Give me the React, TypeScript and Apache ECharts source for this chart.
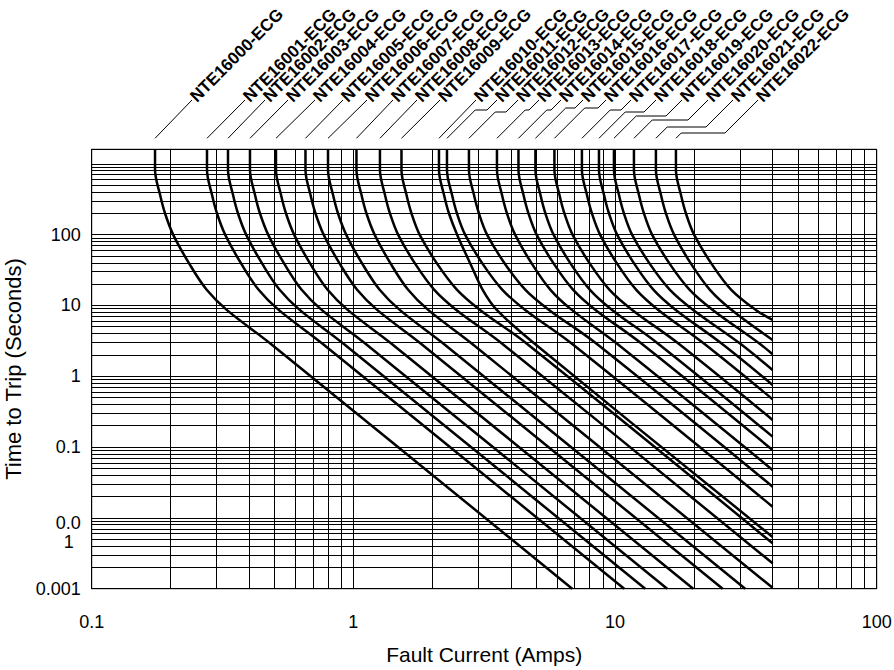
import React, { useEffect, useRef } from 'react';
import * as echarts from 'echarts';

const curveNames = [
  'NTE16000-ECG', 'NTE16001-ECG', 'NTE16002-ECG', 'NTE16003-ECG', 'NTE16004-ECG',
  'NTE16005-ECG', 'NTE16006-ECG', 'NTE16007-ECG', 'NTE16008-ECG', 'NTE16009-ECG',
  'NTE16010-ECG', 'NTE16011-ECG', 'NTE16012-ECG', 'NTE16013-ECG', 'NTE16014-ECG',
  'NTE16015-ECG', 'NTE16016-ECG', 'NTE16017-ECG', 'NTE16018-ECG', 'NTE16019-ECG',
  'NTE16020-ECG', 'NTE16021-ECG', 'NTE16022-ECG',
];

const xTickLabels = ['0.1', '1', '10', '100'];
const yTickLabels = ['0.001', '{s| }\n{t|0.0}\n{u|1}', '0.1', '1', '10', '100'];
const xRange = [0.1, 100];
const yRange = [0.001, 1600];

// [fault current (A), time to trip (s)]
const c00 = [[0.1746, 1600], [0.1746, 820], [0.1825, 364], [0.1906, 200], [0.205, 99], [0.2375, 37.3], [0.2751, 16.6], [0.3281, 8.64], [0.4802, 2.92], [6.86, 0.001]];
const c01 = [[0.2758, 1600], [0.2758, 820], [0.2882, 364], [0.301, 200], [0.3239, 99], [0.3752, 37.3], [0.4345, 16.6], [0.5182, 8.64], [0.7585, 2.92], [10.84, 0.001]];
const c02 = [[0.3318, 1600], [0.3318, 820], [0.3467, 364], [0.3621, 200], [0.3896, 99], [0.4513, 37.3], [0.5227, 16.6], [0.6235, 8.64], [0.9125, 2.92], [13.04, 0.001]];
const c03 = [[0.4026, 1600], [0.4026, 820], [0.4207, 364], [0.4394, 200], [0.4728, 99], [0.5477, 37.3], [0.6343, 16.6], [0.7565, 8.64], [1.107, 2.92], [15.82, 0.001]];
const c04 = [[0.5061, 1600], [0.5061, 820], [0.5289, 364], [0.5524, 200], [0.5943, 99], [0.6885, 37.3], [0.7974, 16.6], [0.951, 8.64], [1.392, 2.92], [19.89, 0.001]];
const c05 = [[0.6561, 1600], [0.6561, 820], [0.6856, 364], [0.7161, 200], [0.7705, 99], [0.8925, 37.3], [1.0337, 16.6], [1.2328, 8.64], [1.804, 2.92], [25.78, 0.001]];
const c06 = [[0.8, 1600], [0.8, 820], [0.836, 364], [0.8731, 200], [0.9394, 99], [1.0882, 37.3], [1.2604, 16.6], [1.5032, 8.64], [2.2, 2.92], [31.44, 0.001]];
const c07 = [[1.0276, 1600], [1.0276, 820], [1.0738, 364], [1.1215, 200], [1.2067, 99], [1.3978, 37.3], [1.619, 16.6], [1.9309, 8.64], [2.826, 2.92], [40, 0.00103]];
const c08 = [[1.2635, 1600], [1.2635, 820], [1.3204, 364], [1.379, 200], [1.4837, 99], [1.734, 37.3], [2.0384, 16.6], [2.4745, 8.64], [3.686, 2.92], [40, 0.002285]];
const c09 = [[1.527, 1600], [1.527, 820], [1.5957, 364], [1.6666, 200], [1.7931, 99], [2.1044, 37.3], [2.4905, 16.6], [3.0485, 8.64], [4.579, 2.92], [40, 0.004377]];
const c10 = [[2.124, 1600], [2.124, 820], [2.2196, 364], [2.3181, 200], [2.4942, 99], [2.814, 37.3], [3.12, 16.6], [3.532, 8.64], [4.904, 2.92], [40, 0.005374]];
const c11 = [[2.279, 1600], [2.279, 820], [2.3816, 364], [2.4873, 200], [2.6762, 99], [3.1389, 37.3], [3.7112, 16.6], [4.5374, 8.64], [6.808, 2.92], [40, 0.01439]];
const c12 = [[2.765, 1600], [2.765, 820], [2.8894, 364], [3.0177, 200], [3.2469, 99], [3.8218, 37.3], [4.5453, 16.6], [5.596, 8.64], [8.455, 2.92], [40, 0.02759]];
const c13 = [[3.538, 1600], [3.538, 820], [3.6972, 364], [3.8614, 200], [4.1547, 99], [4.8422, 37.3], [5.665, 16.6], [6.838, 8.64], [10.13, 2.92], [40, 0.0475]];
const c14 = [[4.275, 1600], [4.275, 820], [4.4674, 364], [4.6657, 200], [5.0201, 99], [5.8746, 37.3], [6.9205, 16.6], [8.4239, 8.64], [12.58, 2.92], [40, 0.091]];
const c15 = [[4.963, 1600], [4.963, 820], [5.1863, 364], [5.4166, 200], [5.8281, 99], [6.8153, 37.3], [8.0202, 16.6], [9.748, 8.64], [14.54, 2.92], [40, 0.1402]];
const c16 = [[5.866, 1600], [5.866, 820], [6.13, 364], [6.4021, 200], [6.8884, 99], [8.072, 37.3], [9.53, 16.6], [11.632, 8.64], [17.42, 2.92], [40, 0.2414]];
const c17 = [[7.472, 1600], [7.472, 820], [7.8082, 364], [8.155, 200], [8.7744, 99], [10.254, 37.3], [12.055, 16.6], [14.634, 8.64], [21.8, 2.92], [40, 0.4733]];
const c18 = [[8.682, 1600], [8.682, 820], [9.0727, 364], [9.4755, 200], [10.195, 99], [11.926, 37.3], [14.037, 16.6], [17.068, 8.64], [25.47, 2.92], [40, 0.7538]];
const c19 = [[9.904, 1600], [9.904, 820], [10.35, 364], [10.809, 200], [11.63, 99], [13.667, 37.3], [16.211, 16.6], [19.894, 8.64], [29.96, 2.92], [40, 1.227]];
const c20 = [[11.81, 1600], [11.81, 820], [12.341, 364], [12.889, 200], [13.868, 99], [16.282, 37.3], [19.286, 16.6], [23.627, 8.64], [35.52, 2.92], [40, 2.045]];
const c21 = [[14.33, 1600], [14.33, 820], [14.975, 364], [15.64, 200], [16.828, 99], [19.643, 37.3], [23.047, 16.6], [27.911, 8.64], [40, 3.256]];
const c22 = [[17.09, 1600], [17.09, 820], [17.859, 364], [18.652, 200], [20.069, 99], [23.532, 37.3], [27.808, 16.6], [34.5, 8.64], [40, 6.24]];

const curves = [c00, c01, c02, c03, c04, c05, c06, c07, c08, c09, c10, c11, c12, c13, c14, c15, c16, c17, c18, c19, c20, c21, c22];

// layout of the leader lines and rotated labels above the plot (pixels)
const labelAnchorX = [192, 245, 265, 288, 315, 343, 367, 393, 417, 440, 476, 497, 518, 539, 561, 583, 606, 631, 656, 682, 708, 733, 758];
const leaderKinkY: (number | null)[] = [null, null, null, null, null, null, null, null, null, null, null, 110, 112, 110, 110, 108, 108, 110, 112, 116, 120, 127, 133];
const labelBaseY = 100;
const leaderGapAbovePlot = 11;

const FONT = '"Liberation Sans", Arial, Helvetica, sans-serif';

function decade(v: number): number | null {
  const l = Math.log10(v);
  const r = Math.round(l);
  return Math.abs(l - r) < 1e-6 ? r : null;
}

export default function App() {
  const ref = useRef<HTMLDivElement>(null);

  useEffect(() => {
    if (!ref.current) return;
    const chart = echarts.init(ref.current, null, { renderer: 'svg' });

    const gridLine = { show: true, lineStyle: { color: '#000', width: 1, type: 'solid' as const } };
    const tickFont = { color: '#000', fontSize: 18, fontFamily: FONT };

    chart.setOption({
      animation: false,
      backgroundColor: '#fff',
      grid: { left: 91.7, right: 17.3, top: 149.3, bottom: 81.3, show: true, borderColor: '#000', borderWidth: 1, backgroundColor: 'transparent', containLabel: false, outerBoundsMode: 'none' },
      xAxis: {
        type: 'log', logBase: 10, min: xRange[0], max: xRange[1],
        axisLine: { show: true, onZero: false, lineStyle: { color: '#000', width: 1 } },
        axisTick: { show: false },
        splitLine: gridLine,
        minorTick: { show: false, splitNumber: 9 },
        minorSplitLine: gridLine,
        axisLabel: {
          ...tickFont, margin: 24,
          formatter: (v: number) => { const d = decade(v); return d === null ? '' : (xTickLabels[d + 1] ?? ''); },
        },
        name: 'Fault Current (Amps)', nameLocation: 'middle', nameGap: 55,
        nameTextStyle: { color: '#000', fontSize: 21, fontFamily: FONT },
      },
      yAxis: {
        type: 'log', logBase: 10, min: yRange[0], max: yRange[1],
        axisLine: { show: true, onZero: false, lineStyle: { color: '#000', width: 1 } },
        axisTick: { show: false },
        splitLine: gridLine,
        minorTick: { show: false, splitNumber: 9 },
        minorSplitLine: gridLine,
        axisLabel: {
          ...tickFont, margin: 11, lineHeight: 19,
          rich: {
            s: { ...tickFont, lineHeight: 29 },
            t: { ...tickFont, lineHeight: 19 },
            u: { ...tickFont, lineHeight: 19, padding: [0, 7, 0, 0] },
          },
          formatter: (v: number) => { const d = decade(v); return d === null ? '' : (yTickLabels[d + 3] ?? ''); },
        },
        name: 'Time to Trip (Seconds)', nameLocation: 'middle', nameGap: 50,
        nameTextStyle: { color: '#000', fontSize: 22, fontFamily: FONT },
      },
      series: curves.map((pts, i) => ({
        type: 'line', name: curveNames[i], data: pts,
        showSymbol: false, symbol: 'none', smooth: 0.35, silent: true, clip: true,
        lineStyle: { color: '#000', width: 2.5 },
      })),
    });

    const plotTop = chart.convertToPixel({ gridIndex: 0 }, [1, yRange[1]])[1];
    const startY = plotTop - leaderGapAbovePlot;
    const elements: any[] = [];
    curves.forEach((pts, i) => {
      const topX = chart.convertToPixel({ gridIndex: 0 }, [pts[0][0], pts[0][1]])[0];
      const lx = labelAnchorX[i];
      const ky = leaderKinkY[i];
      let points: number[][];
      if (ky !== null && lx - topX > startY - labelBaseY) {
        points = [[topX, startY], [topX + (startY - ky), ky], [lx - (ky - labelBaseY), ky], [lx, labelBaseY]];
      } else {
        points = [[topX, startY], [lx, labelBaseY]];
      }
      elements.push({ type: 'polyline', silent: true, shape: { points }, style: { stroke: '#000', lineWidth: 1, fill: null } });
      elements.push({
        type: 'text', silent: true, x: lx + 1, y: labelBaseY - 1, rotation: Math.PI / 4,
        style: { text: curveNames[i], font: `bold 17px ${FONT}`, fill: '#000', textAlign: 'left', textVerticalAlign: 'middle', align: 'left', verticalAlign: 'middle' },
      });
    });
    chart.setOption({ graphic: elements });

    return () => chart.dispose();
  }, []);

  return <div ref={ref} style={{ position: 'absolute', left: 0, top: 0, width: 894, height: 670 }} />;
}
